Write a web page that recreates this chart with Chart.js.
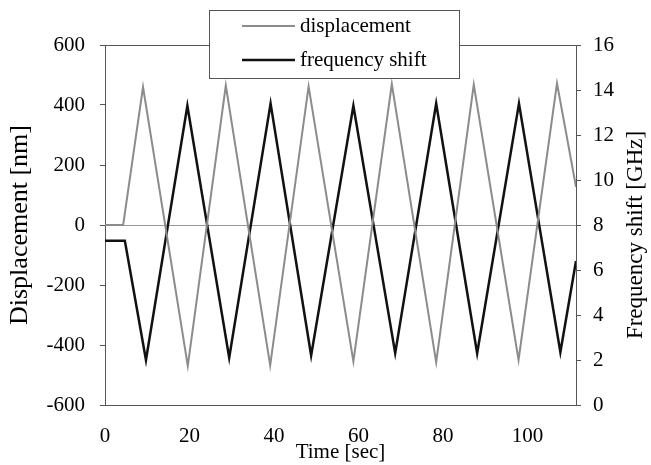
<!DOCTYPE html>
<html>
<head>
<meta charset="utf-8">
<script src="https://cdn.jsdelivr.net/npm/chart.js@4"></script>
<style>
  body { margin: 0; background: #fff; }
  canvas { display: block; }
</style>
</head>
<body>
<canvas id="grafico" width="651" height="465"></canvas>
<script>
// turning points
const dispTime = [0, 4.3, 9.0, 19.6, 28.6, 39.1, 48.2, 58.8, 67.9, 78.4, 87.3, 97.9, 107.0, 111.5];
const dispValue = [0, 0, 460, -470, 465, -468, 462, -455, 470, -458, 468, -450, 472, 127];

const freqTime = [0, 4.7, 9.7, 19.5, 29.4, 39.2, 48.8, 58.8, 68.7, 78.4, 88.1, 98.0, 107.8, 111.5];
const freqValue = [7.3, 7.3, 2.0, 13.3, 2.1, 13.4, 2.2, 13.3, 2.3, 13.4, 2.3, 13.4, 2.35, 6.4];

const xTicks = [0, 20, 40, 60, 80, 100];
const labels = ["displacement", "frequency shift"];

const fonte = "'Liberation Serif', 'Times New Roman', serif";

const pontos = (xs, ys) => xs.map((x, i) => ({ x: x, y: ys[i] }));

// frame, right axis title and legend box
const moldura = {
    id: "moldura",
    afterDraw(chart) {
        const c = chart.ctx;
        const a = chart.chartArea;
        c.save();
        c.strokeStyle = "#555";
        c.lineWidth = 1;
        c.beginPath();
        c.moveTo(a.left, a.top + 0.5);
        c.lineTo(a.right, a.top + 0.5);
        c.stroke();

        c.fillStyle = "#000";
        c.font = "23px " + fonte;
        c.translate(636, 235);
        c.rotate(-Math.PI / 2);
        c.textAlign = "center";
        c.textBaseline = "middle";
        c.fillText("Frequency shift [GHz]", 0, 0);
        c.restore();

        c.save();
        c.fillStyle = "#fff";
        c.fillRect(209, 10, 250, 68);
        c.strokeStyle = "#555";
        c.strokeRect(209.5, 10.5, 250, 68);
        c.font = "21px " + fonte;
        c.textBaseline = "middle";
        chart.data.datasets.forEach((ds, i) => {
            const y = 26 + i * 34;
            c.strokeStyle = ds.borderColor;
            c.lineWidth = ds.borderWidth;
            c.beginPath();
            c.moveTo(242, y);
            c.lineTo(295, y);
            c.stroke();
            c.fillStyle = "#000";
            c.fillText(ds.label, 300, y);
        });
        c.restore();
    },
};

new Chart(document.getElementById("grafico").getContext("2d"), {
    type: "line",
    data: {
        datasets: [
            {
                label: labels[0],
                data: pontos(dispTime, dispValue),
                borderColor: "#8c8c8c",
                borderWidth: 2,
                pointRadius: 0,
                tension: 0,
                yAxisID: "y",
            },
            {
                label: labels[1],
                data: pontos(freqTime, freqValue),
                borderColor: "#111",
                borderWidth: 2.5,
                pointRadius: 0,
                tension: 0,
                yAxisID: "y1",
            },
        ],
    },
    options: {
        responsive: false,
        animation: false,
        devicePixelRatio: 1,
        layout: { padding: { top: 45 } },
        plugins: {
            legend: { display: false },
            tooltip: { enabled: false },
        },
        scales: {
            x: {
                type: "linear",
                min: 0,
                max: 111.5,
                afterFit: (s) => { s.height = 60; },
                afterBuildTicks: (s) => { s.ticks = xTicks.map((v) => ({ value: v })); },
                grid: { display: false, drawTicks: false },
                border: { display: true, color: "#555" },
                ticks: { padding: 19, color: "#000", font: { family: fonte, size: 21 } },
                title: {
                    display: true,
                    text: "Time [sec]",
                    color: "#000",
                    padding: { top: 0, bottom: 0 },
                    font: { family: fonte, size: 21 },
                },
            },
            y: {
                position: "left",
                min: -600,
                max: 600,
                afterFit: (s) => { s.width = 105; },
                ticks: { stepSize: 200, padding: 15, color: "#000", font: { family: fonte, size: 21 } },
                grid: {
                    color: (ctx) => (ctx.tick && ctx.tick.value === 0 ? "#999" : "transparent"),
                    tickColor: "#555",
                    tickLength: 5,
                },
                border: { display: true, color: "#555" },
                title: {
                    display: true,
                    text: "Displacement [nm]",
                    color: "#000",
                    padding: { top: 5 },
                    font: { family: fonte, size: 26 },
                },
            },
            y1: {
                position: "right",
                min: 0,
                max: 16,
                afterFit: (s) => { s.width = 75; },
                ticks: { stepSize: 2, padding: 12, color: "#000", font: { family: fonte, size: 21 } },
                grid: { drawOnChartArea: false, tickColor: "#555", tickLength: 5 },
                border: { display: true, color: "#555" },
            },
        },
    },
    plugins: [moldura],
});
</script>
</body>
</html>
